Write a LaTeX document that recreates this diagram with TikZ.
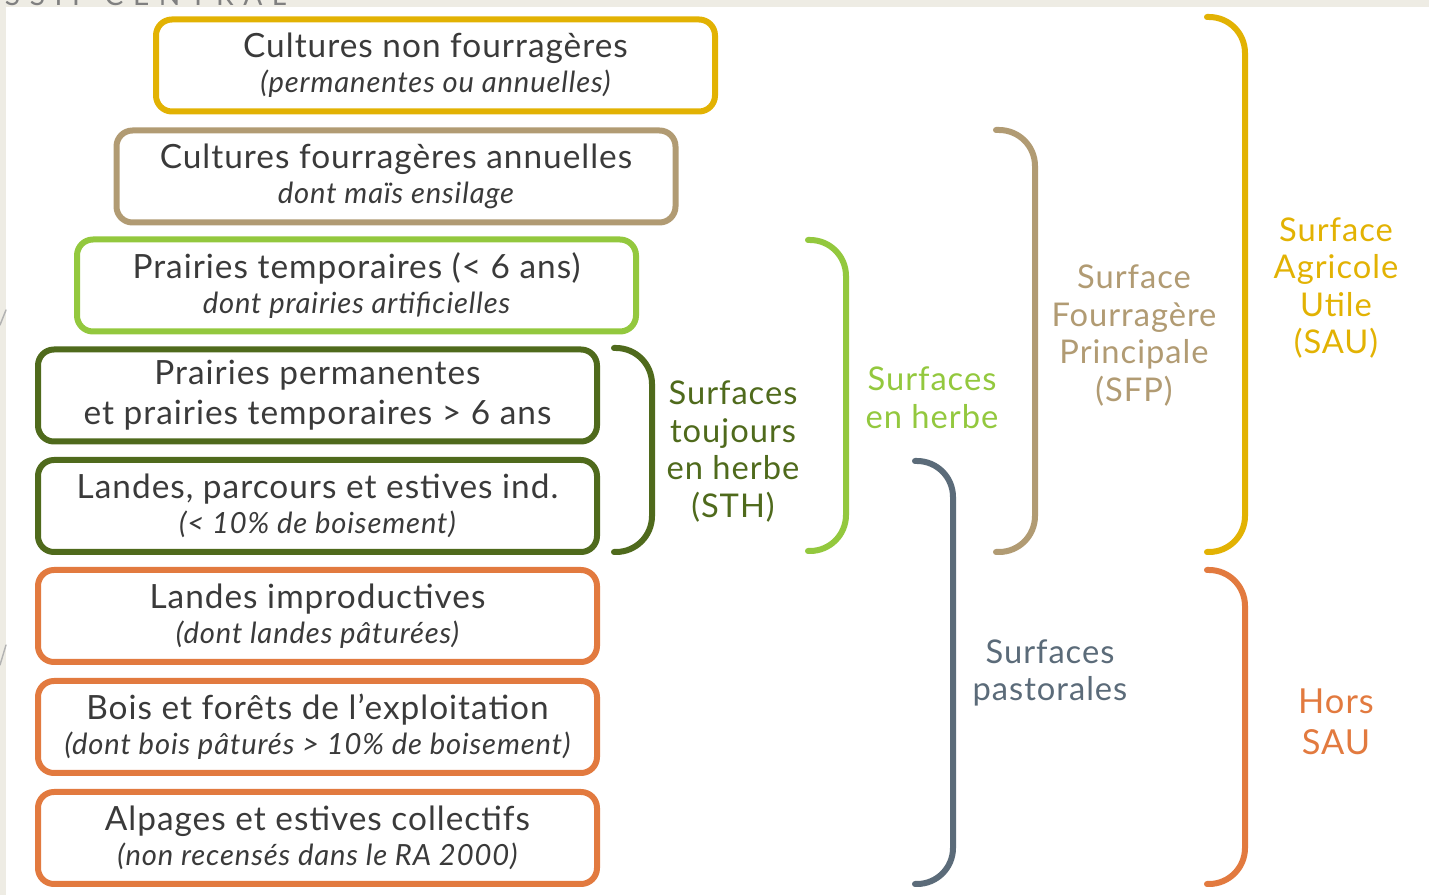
\documentclass[tikz,border=0pt]{standalone}
\usepackage{fontspec}
\setmainfont{Lato}
\definecolor{jaune}{HTML}{E2B203}
\definecolor{beige}{HTML}{B19B73}
\definecolor{vertclair}{HTML}{93C83E}
\definecolor{vertfonce}{HTML}{4F6A1C}
\definecolor{orange}{HTML}{E27A3F}
\definecolor{ardoise}{HTML}{5B6B79}
\definecolor{texte}{HTML}{3A3A3A}
\definecolor{fond}{HTML}{EEECE4}
\newcommand{\sous}[1]{{\fontsize{8.3}{10}\selectfont\itshape\addfontfeatures{LetterSpace=3}#1}}
\begin{document}
\begin{tikzpicture}[line join=round, line cap=round,
  boite/.style={draw, line width=0.06cm, rounded corners=0.16cm, minimum width=5.59cm,
    minimum height=0.92cm, inner sep=0pt, align=center, text=texte,
    font=\fontsize{9.5}{11.4}\selectfont\addfontfeatures{LetterSpace=3}},
  accolade/.style={line width=0.06cm, rounded corners=0.36cm},
  etiquette/.style={align=center, font=\fontsize{9.3}{10.7}\selectfont\addfontfeatures{LetterSpace=3}}]
\useasboundingbox (0,0) rectangle (14.29,8.95);
% fond de la diapositive
\fill[fond] (0,8.88) rectangle (14.29,8.95);
\fill[fond] (0,0) rectangle (0.06,8.95);
\draw[gray!60, line width=0.4pt] (0.06,5.85) -- (0,5.7);
\draw[gray!60, line width=0.4pt] (0.06,2.5) -- (0,2.3);
\begin{scope}
  \clip (0,8.88) rectangle (3,8.95);
  \node[anchor=base west, text=gray, inner sep=0pt, font=\fontsize{8}{8}\selectfont\addfontfeatures{LetterSpace=34}]
    (titre) at (-0.6,8.895) {MASSIF CENTRAL};
\end{scope}
% les boites
\node[boite, draw=jaune] (b1) at (4.355,8.295) {Cultures non fourragères\\[-1.5pt]\sous{(permanentes ou annuelles)}};
\node[boite, draw=beige] (b2) at (3.96,7.185) {Cultures fourragères annuelles\\[-1.5pt]\sous{dont maïs ensilage}};
\node[boite, draw=vertclair] (b3) at (3.565,6.095) {Prairies temporaires (< 6 ans)\\[-1.5pt]\sous{dont prairies artificielles}};
\node[boite, draw=vertfonce] (b4) at (3.175,4.995) {Prairies permanentes\\et prairies temporaires > 6 ans};
\node[boite, draw=vertfonce] (b5) at (3.175,3.89) {Landes, parcours et estives ind.\\[-1.5pt]\sous{(< 10\% de boisement)}};
\node[boite, draw=orange] (b6) at (3.175,2.79) {Landes improductives\\[-1.5pt]\sous{(dont landes pâturées)}};
\node[boite, draw=orange] (b7) at (3.175,1.68) {Bois et forêts de l’exploitation\\[-1.5pt]\sous{(dont bois pâturés > 10\% de boisement)}};
\node[boite, draw=orange] (b8) at (3.175,0.57) {Alpages et estives collectifs\\[-1.5pt]\sous{(non recensés dans le RA 2000)}};
% les accolades
\draw[accolade, vertfonce] (6.14,5.47) -- (6.52,5.47) -- (6.52,3.43) -- (6.14,3.43);
\draw[accolade, vertclair] (8.08,6.55) -- (8.46,6.55) -- (8.46,3.44) -- (8.08,3.44);
\draw[accolade, beige] (9.96,7.65) -- (10.35,7.65) -- (10.35,3.43) -- (9.96,3.43);
\draw[accolade, jaune] (12.07,8.78) -- (12.45,8.78) -- (12.45,3.43) -- (12.07,3.43);
\draw[accolade, ardoise] (9.15,4.34) -- (9.53,4.34) -- (9.53,0.11) -- (9.15,0.11);
\draw[accolade, orange] (12.07,3.25) -- (12.45,3.25) -- (12.45,0.11) -- (12.07,0.11);
% les etiquettes
\node[etiquette, text=vertfonce] (sth) at (7.33,4.435) {Surfaces\\toujours\\en herbe\\(STH)};
\node[etiquette, text=vertclair] (herbe) at (9.32,4.975) {Surfaces\\en herbe};
\node[etiquette, text=beige] (sfp) at (11.34,5.595) {Surface\\Fourragère\\Principale\\(SFP)};
\node[etiquette, text=jaune] (sau) at (13.36,6.07) {Surface\\Agricole\\Utile\\(SAU)};
\node[etiquette, text=ardoise] (pasto) at (10.5,2.22) {Surfaces\\pastorales};
\node[etiquette, text=orange, font=\fontsize{9.8}{11.6}\selectfont\addfontfeatures{LetterSpace=3}] (hors) at (13.36,1.735) {Hors\\SAU};
\end{tikzpicture}
\end{document}
